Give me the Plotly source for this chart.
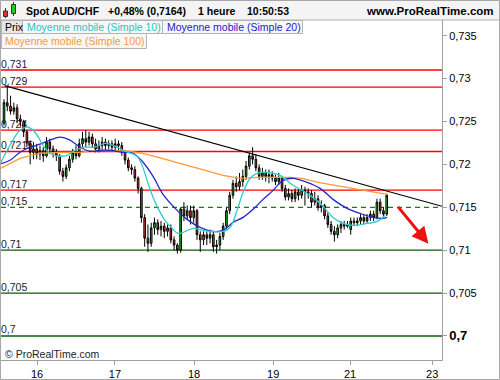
import plotly.graph_objects as go

# ---------------- data (hourly candles, x = candle index) ----------------
opens = [.7248,.7272,.7268,.7262,.7266,.7253,.7250,.7238,.7225,.7214,
         .7218,.7212,.7216,.7210,.7226,.7218,.7214,.7210,.7192,.7186,
         .7196,.7206,.7214,.7210,.7224,.7230,.7226,.7232,.7224,.7218,
         .7222,.7226,.7222,.7224,.7220,.7224,.7222,.7214,.7205,.7196,
         .7194,.7184,.7172,.7138,.7114,.7108,.7126,.7132,.7124,.7128,
         .7122,.7126,.7112,.7106,.7100,.7148,.7140,.7146,.7138,.7146,
         .7118,.7112,.7118,.7114,.7118,.7104,.7106,.7116,.7128,.7146,
         .7164,.7178,.7174,.7180,.7186,.7198,.7210,.7206,.7196,.7186,
         .7190,.7186,.7188,.7184,.7180,.7184,.7172,.7162,.7166,.7160,
         .7168,.7164,.7170,.7168,.7166,.7156,.7160,.7150,.7152,.7140,
         .7130,.7122,.7118,.7126,.7130,.7128,.7124,.7134,.7132,.7134,
         .7138,.7134,.7138,.7142,.7138,.7156,.7146,.7142]
closes = [.7272,.7268,.7262,.7266,.7253,.7250,.7238,.7225,.7214,.7218,
          .7212,.7216,.7210,.7226,.7218,.7214,.7210,.7192,.7186,.7196,
          .7206,.7214,.7210,.7224,.7230,.7226,.7232,.7224,.7218,.7222,
          .7226,.7222,.7224,.7220,.7224,.7222,.7214,.7205,.7196,.7194,
          .7184,.7172,.7138,.7114,.7108,.7126,.7132,.7124,.7128,.7122,
          .7126,.7112,.7106,.7100,.7148,.7140,.7146,.7138,.7146,.7118,
          .7112,.7118,.7114,.7118,.7104,.7106,.7116,.7128,.7146,.7164,
          .7178,.7174,.7180,.7186,.7198,.7210,.7206,.7196,.7186,.7190,
          .7186,.7188,.7184,.7180,.7184,.7172,.7162,.7166,.7160,.7168,
          .7164,.7170,.7168,.7166,.7156,.7160,.7150,.7152,.7140,.7130,
          .7122,.7118,.7126,.7130,.7128,.7130,.7134,.7132,.7134,.7138,
          .7134,.7138,.7142,.7138,.7156,.7146,.7142,.7164]
highs = [.7276,.7292,.7280,.7272,.7270,.7258,.7252,.7240,.7228,.7226,
         .7224,.7222,.7220,.7232,.7230,.7222,.7218,.7212,.7196,.7200,
         .7210,.7218,.7222,.7230,.7238,.7240,.7238,.7236,.7230,.7228,
         .7232,.7230,.7228,.7228,.7230,.7228,.7226,.7216,.7208,.7200,
         .7198,.7186,.7174,.7142,.7130,.7132,.7138,.7136,.7134,.7132,
         .7130,.7130,.7116,.7108,.7150,.7156,.7152,.7152,.7152,.7148,
         .7122,.7122,.7122,.7124,.7122,.7112,.7120,.7132,.7150,.7168,
         .7182,.7186,.7190,.7194,.7204,.7214,.7220,.7212,.7200,.7196,
         .7194,.7194,.7192,.7188,.7190,.7186,.7176,.7172,.7170,.7172,
         .7172,.7176,.7174,.7172,.7170,.7168,.7164,.7158,.7154,.7144,
         .7134,.7128,.7130,.7134,.7134,.7134,.7138,.7138,.7138,.7142,
         .7142,.7142,.7146,.7146,.7160,.7160,.7150,.7166]
lows = [.7245,.7262,.7258,.7258,.7248,.7244,.7232,.7220,.7200,.7206,
        .7206,.7205,.7203,.7208,.7212,.7208,.7204,.7188,.7180,.7183,
        .7192,.7202,.7206,.7208,.7220,.7220,.7222,.7220,.7214,.7214,
        .7218,.7216,.7218,.7216,.7216,.7216,.7210,.7200,.7192,.7188,
        .7180,.7166,.7132,.7104,.7098,.7104,.7118,.7118,.7116,.7114,
        .7116,.7108,.7100,.7096,.7097,.7134,.7136,.7130,.7132,.7112,
        .7098,.7106,.7106,.7108,.7098,.7096,.7100,.7112,.7124,.7142,
        .7160,.7168,.7170,.7174,.7182,.7194,.7200,.7192,.7182,.7182,
        .7180,.7178,.7180,.7176,.7176,.7168,.7158,.7158,.7156,.7156,
        .7158,.7160,.7152,.7160,.7150,.7152,.7146,.7144,.7136,.7126,
        .7118,.7110,.7114,.7120,.7124,.7126,.7118,.7128,.7128,.7130,
        .7130,.7132,.7134,.7134,.7136,.7142,.7138,.7140]
candle_x = list(range(len(closes)))

# moving averages (x in candle index units)
sma10_x = [-0.92,1.83,4.89,7.34,9.48,12.54,14.68,17.13,19.27,21.71,24.77,27.83,30.89,33.94,37.0,40.67,
           42.2,44.04,45.57,47.1,49.24,51.38,53.2,54.74,57.8,60.86,63.91,66.97,69.1,71.25,73.09,75.23,
           77.37,80.43,84.4,88.38,92.66,96.64,100.6,103.67,106.73,111.0,114.07,116.5]
sma10_y = [.72025,.72223,.72398,.72433,.72375,.72188,.72118,.72095,.72106,.72165,.72200,.72200,.72246,.72211,
           .72153,.72095,.71989,.71779,.71616,.71487,.71347,.71254,.71195,.71207,.71254,.71230,.71218,.71218,
           .71265,.71464,.71674,.71838,.71896,.71908,.71873,.71756,.71662,.71546,.71382,.71312,.71289,.71312,
           .71335,.71405]
sma20_x = [-0.92,1.83,4.89,7.95,11.01,14.07,17.13,20.18,23.24,26.3,29.36,32.42,36.09,39.45,42.51,45.57,
           48.62,52.91,55.96,59.94,63.91,66.97,70.03,73.09,76.15,79.2,82.26,85.32,88.38,92.66,96.64,
           100.6,104.89,108.87,112.84,115.9,117.13]
sma20_y = [.72008,.72048,.72141,.72200,.72235,.72282,.72317,.72282,.72200,.72153,.72165,.72165,.72141,.72130,
           .72025,.71861,.71650,.71464,.71359,.71265,.71218,.71230,.71324,.71382,.71476,.71592,.71697,.71814,
           .71838,.71791,.71721,.71592,.71487,.71428,.71382,.71370,.71382]
sma100_x = [-0.92,4.89,11.01,17.13,23.24,29.36,37.92,42.2,48.32,55.96,62.08,66.97,72.17,77.37,82.26,
            87.46,91.13,96.02,101.22,106.42,111.31,117.13]
sma100_y = [.71955,.72071,.72130,.72141,.72141,.72165,.72153,.72130,.72071,.71990,.71931,.71873,.71838,
            .71849,.71849,.71849,.71838,.71791,.71756,.71721,.71686,.71651]

trend_x = [0.15, 133.9]
trend_y = [0.72918, 0.71511]

red_levels = [0.731, 0.729, 0.724, 0.7215, 0.717]
red_labels = ["0,731", "0,729", "0,724", "0,7215", "0,717"]
dash_levels = [0.715]
dash_labels = ["0,715"]
green_levels = [0.71, 0.705, 0.70]
green_labels = ["0,71", "0,705", "0,7"]

arrow_from = (120.1, 0.71522)
arrow_to = (129.75, 0.71075)

ytick_vals = [0.70, 0.705, 0.71, 0.715, 0.72, 0.725, 0.73, 0.735]
ytick_text = ['<span style="font-size:13px"><b>0,7</b></span>', "0,705", "0,71", "0,715",
              "0,72", "0,725", "0,73", "0,735"]
xtick_vals = [10.1, 33.9, 58.1, 82.3, 105.8, 130.9]
xtick_text = ["16", "17", "18", "19", "21", "23"]

# ---------------- figure ----------------
W, H = 500, 380
ML, MR, MT, MB = 1, 58, 20, 20
PW, PH = W - ML - MR, H - MT - MB


def px(xp):
    return (xp - ML) / PW


def py(yp):
    return (H - MB - yp) / PH


FONT = "Liberation Sans, Arial, sans-serif"

fig = go.Figure()

fig.add_trace(go.Candlestick(
    x=candle_x, open=opens, high=highs, low=lows, close=closes,
    increasing=dict(line=dict(color="#000000", width=1), fillcolor="#22cc22"),
    decreasing=dict(line=dict(color="#000000", width=1), fillcolor="#f03c3c"),
    whiskerwidth=0, hoverinfo="skip", showlegend=False))

fig.add_trace(go.Scatter(x=sma100_x, y=sma100_y, mode="lines",
                         line=dict(color="#ff9933", width=1.3), hoverinfo="skip", showlegend=False))
fig.add_trace(go.Scatter(x=sma20_x, y=sma20_y, mode="lines", line_shape="spline",
                         line=dict(color="#2626c8", width=1.3), hoverinfo="skip", showlegend=False))
fig.add_trace(go.Scatter(x=sma10_x, y=sma10_y, mode="lines", line_shape="spline",
                         line=dict(color="#33cccc", width=1.3), hoverinfo="skip", showlegend=False))
fig.add_trace(go.Scatter(x=trend_x, y=trend_y, mode="lines",
                         line=dict(color="#000000", width=1.1), hoverinfo="skip", showlegend=False))

shapes = []


def level(v, txt, color, dash="solid"):
    shapes.append(dict(type="line", xref="paper", x0=0, x1=1, yref="y", y0=v, y1=v,
                       layer="below", line=dict(color=color, width=1.3, dash=dash),
                       label=dict(text=txt, textposition="start", padding=1,
                                  font=dict(size=10.5, color="#222222", family=FONT))))


for v, t in zip(red_levels, red_labels):
    level(v, t, "rgb(255,0,0)")
for v, t in zip(dash_levels, dash_labels):
    level(v, t, "rgb(26,122,26)", dash="5px,4px")
for v, t in zip(green_levels, green_labels):
    level(v, t, "rgb(11,94,11)")

# header bar
shapes.append(dict(type="rect", xref="paper", yref="paper", x0=px(0), x1=px(500), y0=py(20), y1=py(0),
                   fillcolor="#f4f4f4", line=dict(width=0), layer="above"))
shapes.append(dict(type="line", xref="paper", yref="paper", x0=px(0), x1=px(500), y0=py(20), y1=py(20),
                   line=dict(color="#b0b0b0", width=1), layer="above"))
# icon
shapes += [
    dict(type="line", xref="paper", yref="paper", x0=px(5.5), x1=px(5.5), y0=py(18), y1=py(8),
         line=dict(color="#333", width=1), layer="above"),
    dict(type="rect", xref="paper", yref="paper", x0=px(3.5), x1=px(7.5), y0=py(16.5), y1=py(11),
         fillcolor="#e03030", line=dict(color="#333", width=1), layer="above"),
    dict(type="line", xref="paper", yref="paper", x0=px(13.5), x1=px(13.5), y0=py(16), y1=py(2),
         line=dict(color="#333", width=1), layer="above"),
    dict(type="rect", xref="paper", yref="paper", x0=px(11.5), x1=px(15.5), y0=py(13.5), y1=py(4.5),
         fillcolor="#22cc22", line=dict(color="#333", width=1), layer="above"),
]
# legend boxes
boxes = [(1, 22, 20, 33, "#e6e6e6"), (22, 162, 20, 33, "#f7f7f7"), (162, 302, 20, 33, "#f7f7f7"),
         (1, 146, 33, 48, "#f7f7f7")]
for x0, x1, y0, y1, fc in boxes:
    shapes.append(dict(type="rect", xref="paper", yref="paper", x0=px(x0 + 0.5), x1=px(x1 + 0.5),
                       y0=py(y1 + 0.5), y1=py(y0 + 0.5), fillcolor=fc,
                       line=dict(color="#b4b4b4", width=1), layer="above"))
# outer frame
shapes.append(dict(type="rect", xref="paper", yref="paper", x0=px(0.5), x1=px(499.5), y0=py(379.5), y1=py(0.5),
                   line=dict(color="#a8a8a8", width=1), layer="above"))

annotations = []


def txt(x, y, s, size=10.5, color="#000", bold=False, xanchor="left"):
    annotations.append(dict(xref="paper", yref="paper", x=px(x), y=py(y), text=(f"<b>{s}</b>" if bold else s),
                            showarrow=False, xanchor=xanchor, yanchor="middle",
                            font=dict(size=size, color=color, family=FONT)))


txt(24, 11, "Spot AUD/CHF", size=10.5, bold=True)
txt(106, 11, "+0,48% (0,7164)", size=10.5, bold=True)
txt(196, 11, "1 heure", size=10.5, bold=True)
txt(245, 11, "10:50:53", size=10.5, bold=True)
txt(496, 11, "www.ProRealTime.com", size=11.5, bold=True, xanchor="right")
txt(3, 27, "Prix", color="#000")
txt(25, 27, "Moyenne mobile (Simple 10)", color="#2ec0c0")
txt(165, 27, "Moyenne mobile (Simple 20)", color="#1a1acd")
txt(3, 41, "Moyenne mobile (Simple 100)", color="#f59a42")
txt(3, 354, "© ProRealTime.com", color="#222")

annotations.append(dict(x=arrow_to[0], y=arrow_to[1], ax=arrow_from[0], ay=arrow_from[1],
                        xref="x", yref="y", axref="x", ayref="y", showarrow=True, text="",
                        arrowhead=2, arrowsize=1.1, arrowwidth=3, arrowcolor="#ee1111"))

fig.update_layout(
    width=W, height=H, margin=dict(l=ML, r=MR, t=MT, b=MB, pad=0),
    paper_bgcolor="#ffffff", plot_bgcolor="#ffffff",
    shapes=shapes, annotations=annotations, showlegend=False,
    xaxis=dict(range=[-0.92, 133.9], rangeslider=dict(visible=False), showgrid=False, zeroline=False,
               showline=True, linecolor="#a0a0a0", linewidth=1, mirror=True,
               ticks="outside", ticklen=4, tickcolor="#a0a0a0",
               tickvals=xtick_vals, ticktext=xtick_text,
               tickfont=dict(size=11, color="#000", family=FONT)),
    yaxis=dict(range=[0.69720, 0.73683], side="right", showgrid=False, zeroline=False,
               showline=True, linecolor="#a0a0a0", linewidth=1,
               ticks="outside", ticklen=4, tickcolor="#a0a0a0",
               tickvals=ytick_vals, ticktext=ytick_text,
               tickfont=dict(size=11, color="#000", family=FONT)),
)

fig.write_html("out.html")
